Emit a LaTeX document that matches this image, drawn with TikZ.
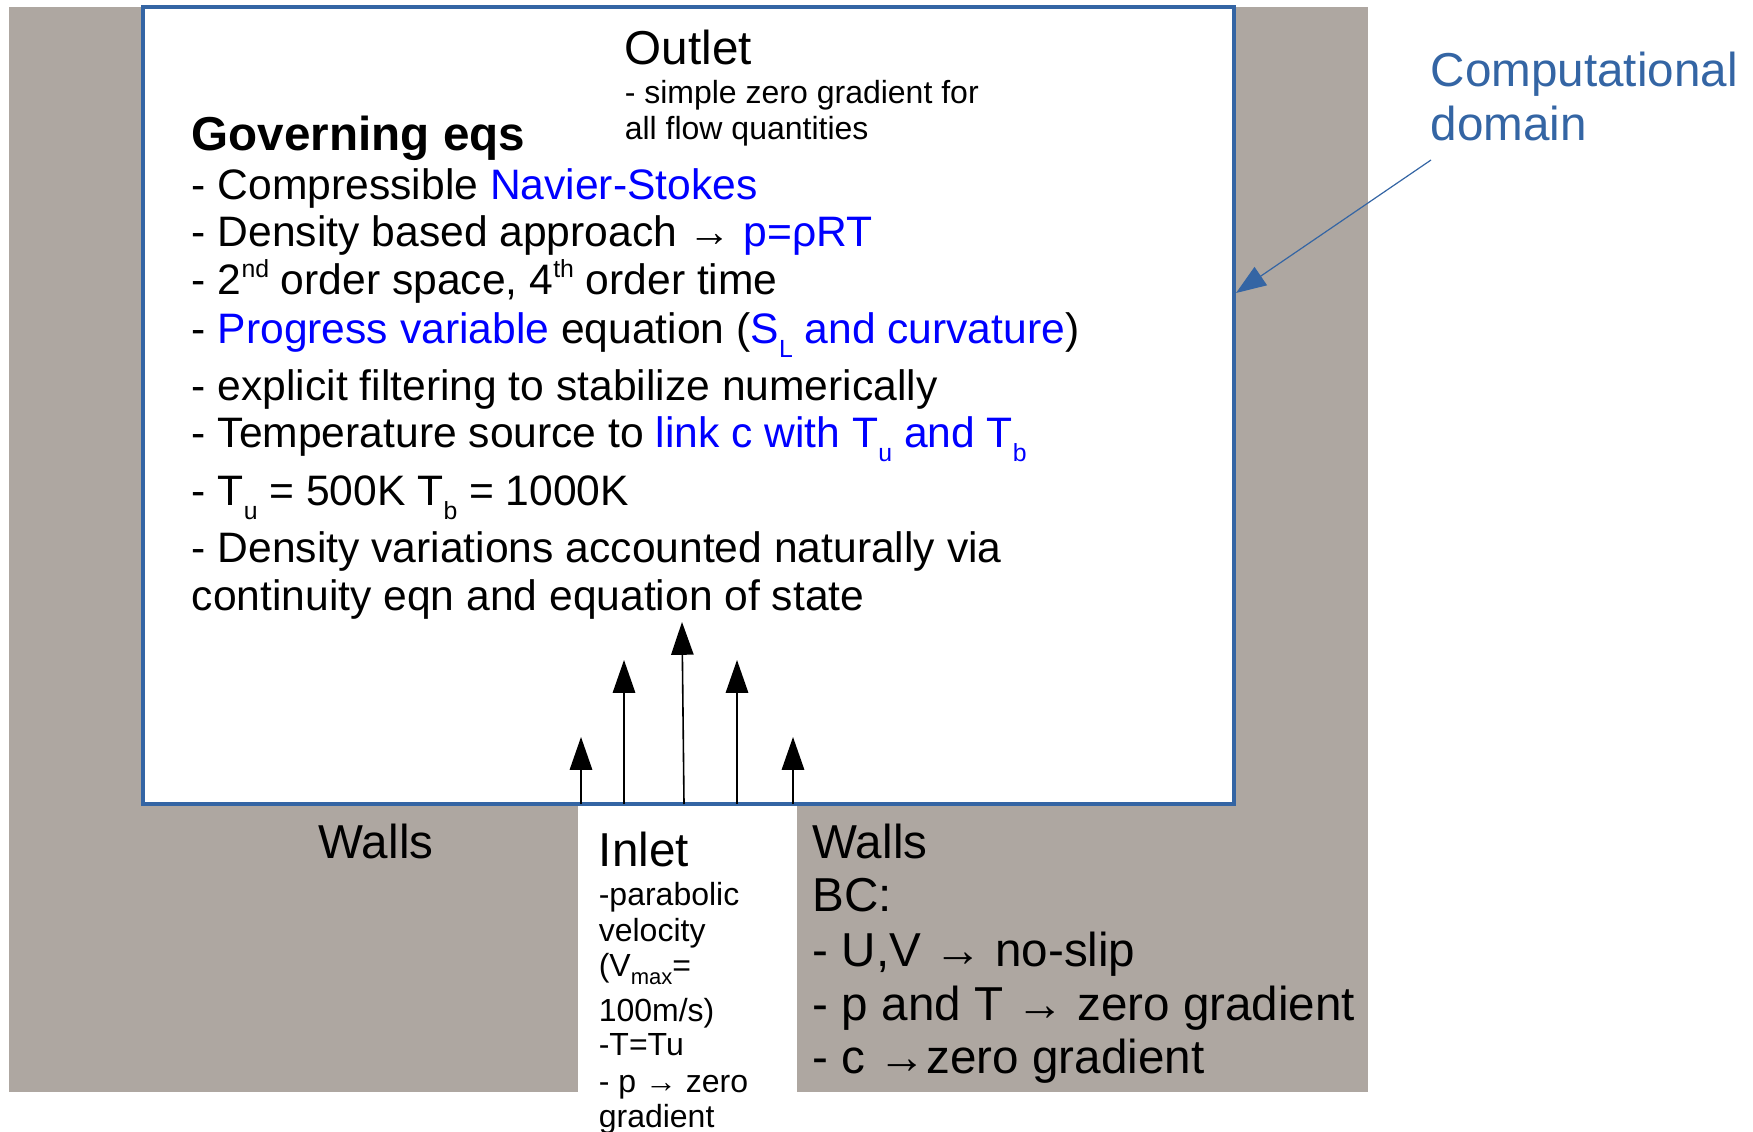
\documentclass[tikz,border=0pt]{standalone}
\usepackage{fontspec}
\setmainfont{Liberation Sans}
\usetikzlibrary{arrows.meta}
\definecolor{wallgray}{RGB}{174,167,161}
\definecolor{domblue}{RGB}{52,101,164}
\definecolor{eqblue}{RGB}{0,0,255}
\newcommand\lowtxt[1]{\raisebox{-3.5pt}{\fontsize{6.2}{7}\selectfont #1}}
\newcommand\hightxt[1]{\raisebox{4.3pt}{\fontsize{6.2}{7}\selectfont #1}}
\tikzset{
  txt/.style={anchor=base west, inner sep=0pt, font=\fontsize{10.65}{12}\selectfont},
  bigtxt/.style={anchor=base west, inner sep=0pt, font=\fontsize{11.9}{14}\selectfont},
  smalltxt/.style={anchor=base west, inner sep=0pt, font=\fontsize{8}{9.6}\selectfont},
  flow/.style={-{Triangle[length=8.2pt,width=5.6pt]}, line width=0.4pt},
}

\begin{document}
\begin{tikzpicture}[x=0.25pt, y=-0.25pt]
			%%%%% START %%%%%
			\useasboundingbox (0,0) rectangle (1753,1132);
			
			% walls and inlet opening
			\fill[wallgray] (9,7) rectangle (1368,1092);
			\fill[white] (578,804) rectangle (797,1132);
			
			% computational domain
			\draw[domblue, fill=white, line width=0.9pt] (143,7) rectangle (1234,804);
			
			% inlet velocity profile
			\draw[flow] (581,804) -- (581,737);
			\draw[flow] (624,804) -- (624,660);
			\draw[flow] (684,804) -- (682,622);
			\draw[flow] (737,804) -- (737,660);
			\draw[flow] (793,804) -- (793,737);
			
			% outlet
			\node[bigtxt] (outlet) at (624,65) {Outlet};
			\node[smalltxt] (outlet1) at (624,104) {- simple zero gradient for};
			\node[smalltxt] (outlet2) at (624,140) {all flow quantities};
			
			% governing equations
			\node[bigtxt, font=\fontsize{11.9}{14}\selectfont\bfseries] (goveqs) at (191,151) {Governing eqs};
			\node[txt] (eq1) at (191,200) {- Compressible {\color{eqblue}Navier-Stokes}};
			\node[txt] (eq2) at (191,247) {- Density based approach → {\color{eqblue}p=ρRT}};
			\node[txt] (eq3) at (191,295) {- 2\hightxt{nd} order space, 4\hightxt{th} order time};
			\node[txt] (eq4) at (191,344) {- {\color{eqblue}Progress variable} equation ({\color{eqblue}S\lowtxt{L} and curvature})};
			\node[txt] (eq5) at (191,401) {- explicit filtering to stabilize numerically};
			\node[txt] (eq6) at (191,448) {- Temperature source to {\color{eqblue}link c with T\lowtxt{u} and T\lowtxt{b}}};
			\node[txt] (eq7) at (191,506) {- T\lowtxt{u} = 500K T\lowtxt{b} = 1000K};
			\node[txt] (eq8) at (191,563) {- Density variations accounted naturally via};
			\node[txt] (eq9) at (191,611) {continuity eqn and equation of state};
			
			% walls, left
			\node[bigtxt] (wallsl) at (318,858) {Walls};
			
			% inlet
			\node[bigtxt] (inlet) at (598,866) {Inlet};
			\node[smalltxt] (inlet1) at (598,905) {-parabolic};
			\node[smalltxt] (inlet2) at (598,941) {velocity};
			\node[smalltxt] (inlet3) at (598,976) {(V\raisebox{-2pt}{\fontsize{5.5}{6}\selectfont max}=};
			\node[smalltxt] (inlet4) at (598,1021) {100m/s)};
			\node[smalltxt] (inlet5) at (598,1055) {-T=Tu};
			\node[smalltxt] (inlet6) at (598,1092) {- p → zero};
			\node[smalltxt] (inlet7) at (598,1127) {gradient};
			
			% walls, right
			\node[bigtxt] (wallsr) at (812,858) {Walls};
			\node[bigtxt] (bc) at (812,911) {BC:};
			\node[bigtxt] (bc1) at (812,966) {- U,V → no-slip};
			\node[bigtxt] (bc2) at (812,1020) {- p and T → zero gradient};
			\node[bigtxt] (bc3) at (812,1073) {- c →zero gradient};
			
			% callout
			\node[bigtxt, domblue] (compdom) at (1430,87) {Computational};
			\node[bigtxt, domblue] (compdom2) at (1430,141) {domain};
			\coordinate (callfrom) at (1431,160);
			\coordinate (callto) at (1236,293);
			\draw[domblue, line width=0.3pt, -{Triangle[length=7.5pt,width=5.5pt]}] (callfrom) -- (callto);
			
			%%%%% END %%%%%
\end{tikzpicture}
\end{document}
